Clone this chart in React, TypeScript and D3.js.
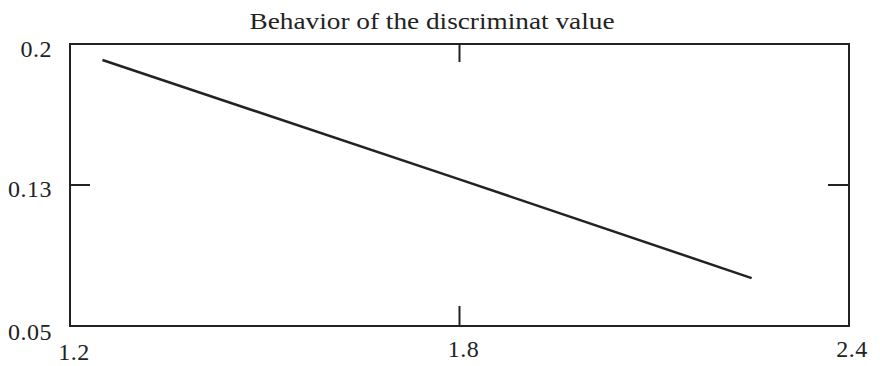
import React from "react";
import * as d3 from "d3";

// Discriminant value as a function of the parameter
const xValues = [1.25, 1.8, 2.25];
const yValues = [0.1915, 0.128, 0.0755];

// Axis ticks and their printed labels
const xTicks = [1.2, 1.8, 2.4];
const xTickLabels = ["1.2", "1.8", "2.4"];
const yTicks = [0.2, 0.125, 0.05];
const yTickLabels = ["0.2", "0.13", "0.05"];

const titleText = "Behavior of the discriminat value";

const W = 880;
const H = 366;
const left = 70;
const right = 849;
const top = 44;
const bottom = 326;
const ink = "#222";

export default function App() {
  const x = d3.scaleLinear().domain([1.2, 2.4]).range([left, right]);
  const y = d3.scaleLinear().domain([0.05, 0.2]).range([bottom, top]);

  const pts: [number, number][] = xValues.map((v, i) => [v, yValues[i]]);
  const line = d3
    .line<[number, number]>()
    .x((d) => x(d[0]))
    .y((d) => y(d[1]));

  const serif = "'Liberation Serif', 'Times New Roman', serif";

  return (
    <svg
      width={W}
      height={H}
      style={{ position: "absolute", left: 0, top: 0, background: "#fff" }}
    >
      <text
        x={432}
        y={29}
        textAnchor="middle"
        fontFamily={serif}
        fontSize={24}
        fill={ink}
        textLength={365}
        lengthAdjust="spacingAndGlyphs"
      >
        {titleText}
      </text>

      <rect
        x={left}
        y={top}
        width={right - left}
        height={bottom - top}
        fill="none"
        stroke={ink}
        strokeWidth={2}
      />

      {/* inner tick marks at the middle of each axis */}
      <line x1={left} x2={left + 20} y1={y(yTicks[1])} y2={y(yTicks[1])} stroke={ink} strokeWidth={2} />
      <line x1={right - 21} x2={right} y1={y(yTicks[1])} y2={y(yTicks[1])} stroke={ink} strokeWidth={2} />
      <line x1={x(xTicks[1])} x2={x(xTicks[1])} y1={top} y2={top + 18} stroke={ink} strokeWidth={2} />
      <line x1={x(xTicks[1])} x2={x(xTicks[1])} y1={bottom - 20} y2={bottom} stroke={ink} strokeWidth={2} />

      {yTicks.map((t, i) => (
        <text
          key={"y" + i}
          x={52}
          y={y(t) + (i === 0 ? 13 : i === 1 ? 12 : 14)}
          textAnchor="end"
          fontFamily={serif}
          fontSize={24}
          letterSpacing={0.5}
          fill={ink}
        >
          {yTickLabels[i]}
        </text>
      ))}

      {xTicks.map((t, i) => (
        <text
          key={"x" + i}
          x={x(t) + (i === 0 ? 4 : i === 1 ? 4 : 3)}
          y={i === 0 ? 360 : 357}
          textAnchor="middle"
          fontFamily={serif}
          fontSize={24}
          letterSpacing={0.5}
          fill={ink}
        >
          {xTickLabels[i]}
        </text>
      ))}

      <path d={line(pts) ?? ""} fill="none" stroke={ink} strokeWidth={2.5} />
    </svg>
  );
}
